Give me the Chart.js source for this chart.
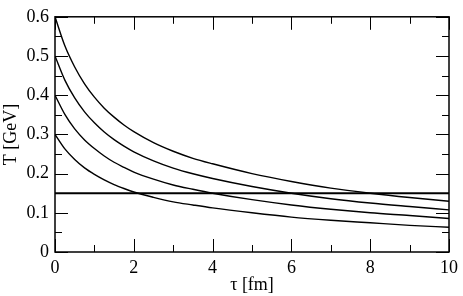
<!DOCTYPE html>
<html>
<head>
<meta charset="utf-8">
<script src="https://cdn.jsdelivr.net/npm/chart.js@4/dist/chart.umd.min.js"></script>
<style>
  html, body { margin: 0; padding: 0; background: #fff; }
  #wrap { width: 463px; height: 296px; }
</style>
</head>
<body>
<div id="wrap"><canvas id="coolingChart" width="463" height="296"></canvas></div>
<script>
// proper time samples (fm)
const tau = [0, 0.25, 0.5, 0.75, 1, 1.25, 1.5, 1.75, 2, 2.5, 3, 3.5, 4, 5, 6, 7, 8, 9, 10];

// temperature curves (GeV)
const tempT06 = [0.600, 0.526, 0.472, 0.429, 0.395, 0.367, 0.344, 0.324, 0.307, 0.279, 0.257, 0.239, 0.225, 0.200, 0.180, 0.163, 0.150, 0.139, 0.1295];
const tempT05 = [0.500, 0.4385, 0.393, 0.3575, 0.3295, 0.306, 0.2865, 0.270, 0.2555, 0.2325, 0.214, 0.1995, 0.1875, 0.167, 0.150, 0.136, 0.125, 0.116, 0.1075];
const tempT04 = [0.400, 0.351, 0.314, 0.286, 0.264, 0.245, 0.229, 0.216, 0.204, 0.186, 0.171, 0.160, 0.150, 0.1335, 0.120, 0.109, 0.100, 0.093, 0.0855];
const tempT03 = [0.300, 0.263, 0.236, 0.2145, 0.198, 0.184, 0.172, 0.162, 0.153, 0.1395, 0.128, 0.120, 0.1125, 0.100, 0.089, 0.081, 0.0745, 0.068, 0.063];

// critical temperature line
const tcTau = [0, 10];
const tcTemp = [0.15, 0.15];

// axis ticks
const xTickValues = [0, 2, 4, 6, 8, 10];
const xTickLabels = ['0', '2', '4', '6', '8', '10'];
const yTickValues = [0, 0.1, 0.2, 0.3, 0.4, 0.5, 0.6];
const yTickLabels = ['0', '0.1', '0.2', '0.3', '0.4', '0.5', '0.6'];

const serif = 'Liberation Serif';

function toPoints(xs, ys) {
    return xs.map((x, i) => ({ x: x, y: ys[i] }));
}

function curve(ys) {
    return {
        data: toPoints(tau, ys),
        borderColor: '#000',
        borderWidth: 1.4,
        pointRadius: 0,
        cubicInterpolationMode: 'monotone',
        fill: false
    };
}

// grace-style frame with inward ticks on all four sides
const frameTicks = {
    id: 'frameTicks',
    afterDatasetsDraw(chart) {
        const { ctx, chartArea: a, scales } = chart;
        const x = scales.x, y = scales.y;
        const majX = x.ticks.map(t => t.value);
        const majY = y.ticks.map(t => t.value);
        const minX = majX.slice(1).map((v, i) => (v + majX[i]) / 2);
        const minY = majY.slice(1).map((v, i) => (v + majY[i]) / 2);

        ctx.save();
        ctx.strokeStyle = '#000';
        ctx.lineWidth = 1;
        ctx.beginPath();
        const tickX = (v, len) => {
            const p = Math.round(x.getPixelForValue(v)) + 0.5;
            ctx.moveTo(p, a.bottom); ctx.lineTo(p, a.bottom - len);
            ctx.moveTo(p, a.top); ctx.lineTo(p, a.top + len);
        };
        const tickY = (v, len) => {
            const p = Math.round(y.getPixelForValue(v)) + 0.5;
            ctx.moveTo(a.left, p); ctx.lineTo(a.left + len, p);
            ctx.moveTo(a.right, p); ctx.lineTo(a.right - len, p);
        };
        majX.forEach(v => tickX(v, 13));
        minX.forEach(v => tickX(v, 7));
        majY.forEach(v => tickY(v, 13));
        minY.forEach(v => tickY(v, 7));
        ctx.stroke();

        ctx.lineWidth = 1.5;
        ctx.strokeRect(a.left, a.top, a.right - a.left, a.bottom - a.top);
        ctx.restore();
    }
};

new Chart(document.getElementById('coolingChart'), {
    type: 'line',
    data: {
        datasets: [
            curve(tempT06),
            curve(tempT05),
            curve(tempT04),
            curve(tempT03),
            {
                data: toPoints(tcTau, tcTemp),
                borderColor: '#000',
                borderWidth: 2,
                pointRadius: 0,
                fill: false
            }
        ]
    },
    options: {
        responsive: false,
        animation: false,
        devicePixelRatio: 1,
        layout: { padding: { top: 8, right: 10, left: 0, bottom: 0 } },
        plugins: {
            legend: { display: false },
            tooltip: { enabled: false }
        },
        scales: {
            x: {
                type: 'linear',
                min: 0,
                max: 10,
                afterFit: s => { s.height = 44; },
                afterBuildTicks: s => { s.ticks = xTickValues.map(v => ({ value: v })); },
                grid: { display: false, drawTicks: false },
                border: { display: false },
                ticks: {
                    padding: 5,
                    color: '#000',
                    maxRotation: 0,
                    font: { family: serif, size: 18 },
                    callback: (v) => xTickLabels[xTickValues.indexOf(v)]
                },
                title: {
                    display: true,
                    text: 'τ [fm]',
                    color: '#000',
                    font: { family: serif, size: 18 },
                    padding: { top: 0, bottom: 0 }
                }
            },
            y: {
                min: 0,
                max: 0.6,
                afterFit: s => { s.width = 55; },
                afterBuildTicks: s => { s.ticks = yTickValues.map(v => ({ value: v })); },
                grid: { display: false, drawTicks: false },
                border: { display: false },
                ticks: {
                    padding: 6,
                    color: '#000',
                    font: { family: serif, size: 18 },
                    callback: (v) => yTickLabels[yTickValues.indexOf(v)]
                },
                title: {
                    display: true,
                    text: 'T [GeV]',
                    color: '#000',
                    font: { family: serif, size: 18 },
                    padding: { top: 0, bottom: 0 }
                }
            }
        }
    },
    plugins: [frameTicks]
});
</script>
</body>
</html>
